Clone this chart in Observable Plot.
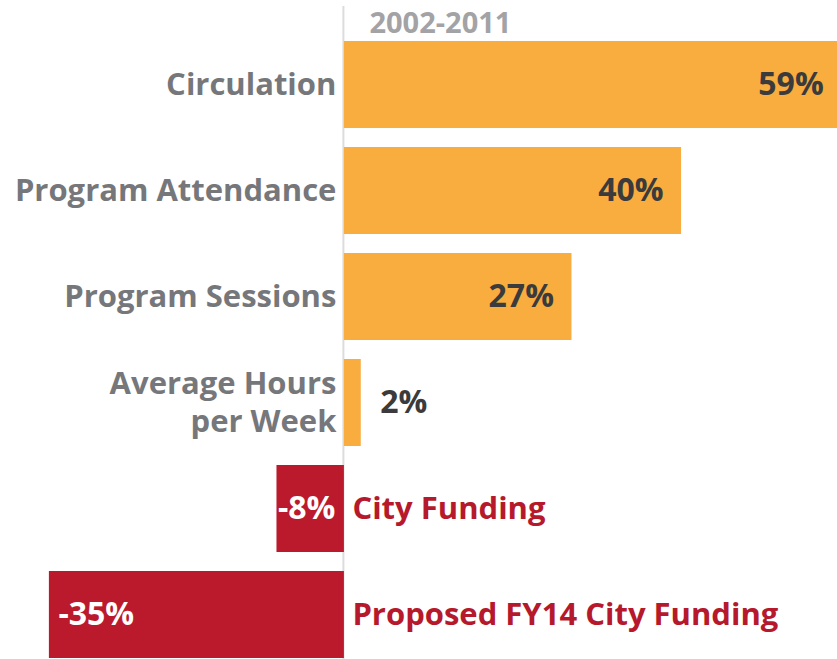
<!DOCTYPE html>
<html>
<head>
<meta charset="utf-8">
<script src="https://cdn.jsdelivr.net/npm/d3@7"></script>
<script src="https://cdn.jsdelivr.net/npm/@observablehq/plot@0.6"></script>
<style>
  html, body { margin: 0; padding: 0; background: #fff; }
  #chart { width: 837px; height: 659px; overflow: hidden; }
</style>
</head>
<body>
<div id="chart"></div>
<script>
const categories = ["Circulation", "Program Attendance", "Program Sessions", "Average Hours\nper Week", "City Funding", "Proposed FY14 City Funding"];
const values = [59, 40, 27, 2, -8, -35];
const valueLabels = ["59%", "40%", "27%", "2%", "-8%", "-35%"];
const periodLabel = "2002-2011";

const data = categories.map((c, i) => ({ category: c, value: values[i], label: valueLabels[i] }));
const pos = data.filter(d => d.value >= 0);
const neg = data.filter(d => d.value < 0);
const font = "'Open Sans', Lato, sans-serif";
const fs = 31;
const vs = 32;

const chart = Plot.plot({
  width: 837,
  height: 659,
  marginTop: 40,
  marginBottom: 0,
  marginLeft: 0,
  marginRight: 0,
  style: { fontFamily: font, background: "#fff" },
  x: { domain: [-40.8, 58.5], axis: null },
  y: { domain: categories, axis: null, paddingInner: 0.183, paddingOuter: 0 },
  marks: [
    Plot.ruleX([0], { stroke: "#dcdcdc", strokeWidth: 2, dx: -1, insetTop: -34 }),
    Plot.barX(data, { y: "category", x: "value", fill: d => d.value >= 0 ? "#f8ad3e" : "#bb1a2c", clip: "frame" }),
    Plot.text([periodLabel], { x: 0, frameAnchor: "top", dy: -8, dx: 25, textAnchor: "start", lineAnchor: "bottom", text: d => d, fill: "#a3a3a5", fontSize: 29, fontWeight: 700, letterSpacing: 0.6 }),
    Plot.text(pos, { y: "category", x: 0, dx: -8, dy: -2, textAnchor: "end", text: "category", fill: "#76777a", fontSize: fs, fontWeight: 700, lineHeight: 1.2 }),
    Plot.text(neg, { y: "category", x: 0, dx: 8, textAnchor: "start", text: "category", fill: "#b5192b", fontSize: fs, fontWeight: 700, letterSpacing: 0.3 }),
    Plot.text(pos.filter(d => d.value >= 10), { y: "category", x: "value", dx: -18, textAnchor: "end", text: "label", fill: "#3b3b3d", fontSize: vs, fontWeight: 700 }),
    Plot.text(pos.filter(d => d.value < 10), { y: "category", x: "value", dx: 19, textAnchor: "start", text: "label", fill: "#3b3b3d", fontSize: vs, fontWeight: 700 }),
    Plot.text(neg.filter(d => d.value > -20), { y: "category", x: "value", dx: 1, textAnchor: "start", text: "label", fill: "#fff", fontSize: vs, fontWeight: 700, letterSpacing: -0.5 }),
    Plot.text(neg.filter(d => d.value <= -20), { y: "category", x: "value", dx: 9, textAnchor: "start", text: "label", fill: "#fff", fontSize: vs, fontWeight: 700 })
  ]
});
document.getElementById("chart").append(chart);
</script>
</body>
</html>
